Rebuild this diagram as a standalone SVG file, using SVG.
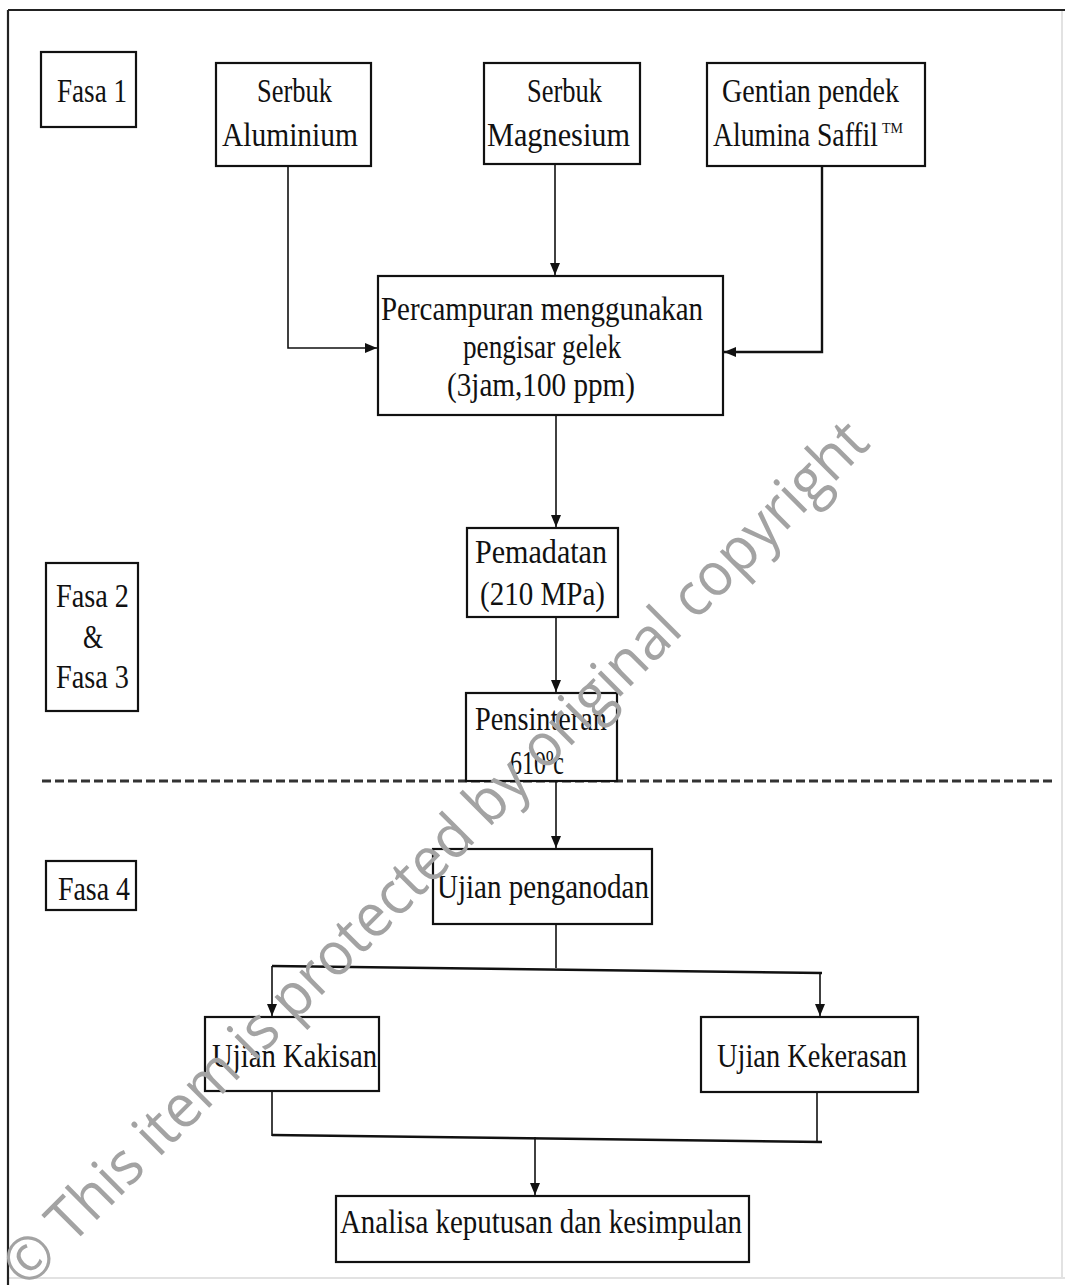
<svg xmlns="http://www.w3.org/2000/svg" width="1065" height="1285" viewBox="0 0 1065 1285">
<defs>
<style>
.box{fill:#fff;stroke:#111;stroke-width:2.2}
.fr{fill:none;stroke:#222;stroke-width:2.2}
.faint{fill:none;stroke:#e2e2e2;stroke-width:2}
.ln{fill:none;stroke:#111;stroke-width:1.6}
.dash{fill:none;stroke:#333;stroke-width:3;stroke-dasharray:9 4}
.t{font-family:"Liberation Serif","Times New Roman",serif;font-size:33px;fill:#111}
.tb{font-family:"Liberation Serif","Times New Roman",serif;font-size:34px;fill:#111}
.wm{font-family:"Open Sans","Liberation Sans",sans-serif;font-size:60px;fill:#a3a3a3}
</style>
<marker id="ah" viewBox="0 0 12 10" refX="12" refY="5" markerWidth="12" markerHeight="10" markerUnits="userSpaceOnUse" orient="auto">
<path d="M0,0 L12,5 L0,10 Z" fill="#111"/>
</marker>
</defs>
<rect width="1065" height="1285" fill="#fff"/>
<g id="frame">
<line class="faint" x1="1062" y1="10" x2="1062" y2="1278"/>
<line class="faint" x1="8" y1="1278" x2="1065" y2="1278"/>
<line class="fr" x1="8" y1="10" x2="1065" y2="10"/>
<line class="fr" x1="8" y1="10" x2="8" y2="1285"/>
<line class="dash" x1="42" y1="781" x2="1052" y2="781"/>
</g>
<g id="connectors">
<polyline class="ln" points="288,166 288,348 377,348" marker-end="url(#ah)"/>
<line class="ln" x1="555" y1="164" x2="555" y2="275" marker-end="url(#ah)"/>
<polyline class="ln" points="822,166 822,352 724,352" marker-end="url(#ah)" style="stroke-width:2.4"/>
<line class="ln" x1="556" y1="415" x2="556" y2="527" marker-end="url(#ah)"/>
<line class="ln" x1="556" y1="617" x2="556" y2="692" marker-end="url(#ah)"/>
<line class="ln" x1="556" y1="781" x2="556" y2="848" marker-end="url(#ah)"/>
<line class="ln" x1="556" y1="924" x2="556" y2="968"/>
<line class="ln" x1="272" y1="966" x2="822" y2="973" style="stroke-width:2.6"/>
<line class="ln" x1="272" y1="966" x2="272" y2="1016" marker-end="url(#ah)"/>
<line class="ln" x1="820" y1="973" x2="820" y2="1016" marker-end="url(#ah)"/>
<line class="ln" x1="272" y1="1091" x2="272" y2="1136"/>
<line class="ln" x1="817" y1="1092" x2="817" y2="1142"/>
<line class="ln" x1="272" y1="1135" x2="822" y2="1142" style="stroke-width:2.6"/>
<line class="ln" x1="535" y1="1137" x2="535" y2="1195" marker-end="url(#ah)"/>
</g>
<g id="fasa1">
<rect class="box" x="41" y="52" width="95" height="75"/>
<text class="t" x="57" y="102" textLength="70" lengthAdjust="spacingAndGlyphs">Fasa 1</text>
</g>
<g id="serbuk-aluminium">
<rect class="box" x="216" y="63" width="155" height="103"/>
<text class="t" x="257" y="102" textLength="75" lengthAdjust="spacingAndGlyphs">Serbuk</text>
<text class="t" x="222" y="146" textLength="136" lengthAdjust="spacingAndGlyphs">Aluminium</text>
</g>
<g id="serbuk-magnesium">
<rect class="box" x="484" y="63" width="156" height="101"/>
<text class="t" x="527" y="102" textLength="75" lengthAdjust="spacingAndGlyphs">Serbuk</text>
<text class="t" x="487" y="146" textLength="143" lengthAdjust="spacingAndGlyphs">Magnesium</text>
</g>
<g id="gentian">
<rect class="box" x="707" y="63" width="218" height="103"/>
<text class="t" x="722" y="102" textLength="177" lengthAdjust="spacingAndGlyphs">Gentian pendek</text>
<text class="t" y="146"><tspan x="713" textLength="165" lengthAdjust="spacingAndGlyphs">Alumina Saffil</tspan><tspan x="882" y="133" style="font-size:14px">TM</tspan></text>
</g>
<g id="percampuran">
<rect class="box" x="378" y="276" width="345" height="139"/>
<text class="tb" x="381" y="320" textLength="322" lengthAdjust="spacingAndGlyphs">Percampuran menggunakan</text>
<text class="tb" x="463" y="358" textLength="158" lengthAdjust="spacingAndGlyphs">pengisar gelek</text>
<text class="tb" x="447" y="396" textLength="188" lengthAdjust="spacingAndGlyphs">(3jam,100 ppm)</text>
</g>
<g id="fasa23">
<rect class="box" x="46" y="563" width="92" height="148"/>
<text class="t" x="56" y="607" textLength="73" lengthAdjust="spacingAndGlyphs">Fasa 2</text>
<text class="t" x="83" y="648" textLength="20" lengthAdjust="spacingAndGlyphs">&amp;</text>
<text class="t" x="56" y="688" textLength="73" lengthAdjust="spacingAndGlyphs">Fasa 3</text>
</g>
<g id="pemadatan">
<rect class="box" x="467" y="528" width="151" height="89"/>
<text class="t" x="475" y="563" textLength="132" lengthAdjust="spacingAndGlyphs">Pemadatan</text>
<text class="t" x="480" y="605" textLength="125" lengthAdjust="spacingAndGlyphs">(210 MPa)</text>
</g>
<g id="pensinteran">
<rect class="box" x="466" y="693" width="151" height="88"/>
<text class="t" x="475" y="730" textLength="132" lengthAdjust="spacingAndGlyphs">Pensinteran</text>
<text class="t" x="510" y="774" textLength="54" lengthAdjust="spacingAndGlyphs">610ºc</text>
</g>
<g id="fasa4">
<rect class="box" x="46" y="861" width="90" height="49"/>
<text class="t" x="58" y="900" textLength="72" lengthAdjust="spacingAndGlyphs">Fasa 4</text>
</g>
<g id="ujian-penganodan">
<rect class="box" x="433" y="849" width="219" height="75"/>
<text class="t" x="437" y="898" textLength="212" lengthAdjust="spacingAndGlyphs">Ujian penganodan</text>
</g>
<g id="ujian-kakisan">
<rect class="box" x="205" y="1017" width="174" height="74"/>
<text class="t" x="212" y="1067" textLength="165" lengthAdjust="spacingAndGlyphs">Ujian Kakisan</text>
</g>
<g id="ujian-kekerasan">
<rect class="box" x="701" y="1017" width="217" height="75"/>
<text class="t" x="717" y="1067" textLength="190" lengthAdjust="spacingAndGlyphs">Ujian Kekerasan</text>
</g>
<g id="analisa">
<rect class="box" x="336" y="1196" width="413" height="66"/>
<text class="t" x="340" y="1233" textLength="402" lengthAdjust="spacingAndGlyphs">Analisa keputusan dan kesimpulan</text>
</g>
<g id="watermark">
<text class="wm" x="27" y="1290" transform="rotate(-45 27 1290)" textLength="1195" lengthAdjust="spacingAndGlyphs">© This item is protected by original copyright</text>
</g>
</svg>
